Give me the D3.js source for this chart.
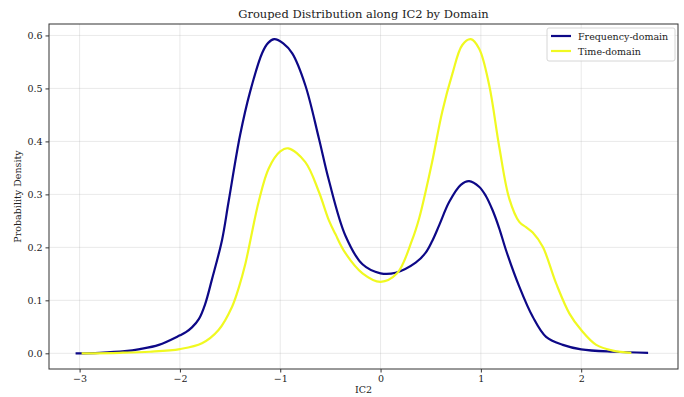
<!DOCTYPE html>
<html><head><meta charset="utf-8">
<script src="https://cdn.jsdelivr.net/npm/d3@7"></script>
<style>body{margin:0;background:#fff}svg{display:block}text{font-family:"DejaVu Serif",serif;fill:#222}</style>
</head><body><svg id="c" width="684" height="397"></svg>
<script>
const title = "Grouped Distribution along IC2 by Domain";
const xLabel = "IC2";
const yLabel = "Probability Density";
const seriesNames = ["Frequency-domain", "Time-domain"];
const seriesColors = ["#0d0887", "#f0f921"];
const xTicks = [-3, -2, -1, 0, 1, 2];
const yTicks = [0.0, 0.1, 0.2, 0.3, 0.4, 0.5, 0.6];

const freqX = [-3.04,-2.8,-2.55,-2.4,-2.21,-2.0,-1.94,-1.88,-1.81,-1.75,-1.68,-1.58,-1.515,-1.40,-1.30,-1.18,-1.12,-1.06,-0.97,-0.88,-0.75,-0.615,-0.517,-0.35,-0.18,0,0.15,0.35,0.45,0.515,0.585,0.685,0.80,0.883,0.985,1.05,1.117,1.183,1.25,1.383,1.517,1.65,1.817,2.0,2.317,2.667];
const freqY = [0.0,0.001,0.004,0.008,0.016,0.034,0.040,0.049,0.065,0.092,0.14,0.214,0.286,0.412,0.494,0.567,0.586,0.593,0.585,0.566,0.506,0.406,0.328,0.222,0.168,0.151,0.152,0.171,0.19,0.212,0.242,0.286,0.318,0.325,0.314,0.297,0.270,0.236,0.195,0.126,0.069,0.031,0.016,0.0075,0.003,0.001];
const timeX = [-2.98,-2.6,-2.3,-2.0,-1.78,-1.615,-1.48,-1.41,-1.35,-1.215,-1.115,-1.0,-0.92,-0.75,-0.615,-0.517,-0.45,-0.35,-0.18,0,0.165,0.315,0.385,0.45,0.515,0.615,0.715,0.815,0.90,0.983,1.083,1.183,1.283,1.383,1.45,1.517,1.617,1.75,1.883,2.0,2.15,2.317,2.5];
const timeY = [0.0,0.001,0.003,0.008,0.019,0.044,0.088,0.126,0.167,0.286,0.349,0.381,0.387,0.361,0.305,0.252,0.225,0.189,0.151,0.135,0.151,0.214,0.255,0.306,0.362,0.456,0.527,0.582,0.593,0.575,0.506,0.39,0.292,0.248,0.238,0.228,0.201,0.132,0.075,0.044,0.016,0.005,0.001];

const svg = d3.select("#c");
const L = 49, R = 678, T = 24, B = 369;
const x = d3.scaleLinear().domain([-3.305, 2.965]).range([L, R]);
const y = d3.scaleLinear().domain([-0.0296, 0.6216]).range([B, T]);

const g = svg.append("g");
g.selectAll(".gx").data(xTicks).join("line")
  .attr("x1", d => x(d)).attr("x2", d => x(d)).attr("y1", T).attr("y2", B)
  .attr("stroke", "#b0b0b0").attr("stroke-opacity", 0.35).attr("stroke-width", 0.8);
g.selectAll(".gy").data(yTicks).join("line")
  .attr("y1", d => y(d)).attr("y2", d => y(d)).attr("x1", L).attr("x2", R)
  .attr("stroke", "#b0b0b0").attr("stroke-opacity", 0.35).attr("stroke-width", 0.8);

const line = d3.line().x(d => x(d[0])).y(d => y(d[1])).curve(d3.curveCatmullRom.alpha(0.5));
const series = [d3.zip(freqX, freqY), d3.zip(timeX, timeY)];
series.forEach((s, i) => {
  g.append("path").datum(s).attr("d", line).attr("fill", "none")
    .attr("stroke", seriesColors[i]).attr("stroke-width", 2.2).attr("stroke-linejoin", "round");
});

const xa = svg.append("g").attr("transform", `translate(0,${B})`)
  .call(d3.axisBottom(x).tickValues(xTicks).tickSize(3.5).tickPadding(3).tickFormat(d => d3.format("d")(d).replace("-", "\u2212")));
const ya = svg.append("g").attr("transform", `translate(${L},0)`)
  .call(d3.axisLeft(y).tickValues(yTicks).tickSize(3.5).tickPadding(3).tickFormat(d3.format(".1f")));
[xa, ya].forEach(a => {
  a.select(".domain").remove();
  a.selectAll("line").attr("stroke", "#333");
  a.selectAll("text").attr("font-size", 9.5).attr("fill", "#222").style("font-family", "DejaVu Serif");
});
svg.append("rect").attr("x", L).attr("y", T).attr("width", R - L).attr("height", B - T)
  .attr("fill", "none").attr("stroke", "#333").attr("stroke-width", 1);

svg.append("text").attr("x", (L + R) / 2).attr("y", 18).attr("text-anchor", "middle")
  .attr("font-size", 11.5).text(title);
svg.append("text").attr("x", (L + R) / 2).attr("y", 393).attr("text-anchor", "middle")
  .attr("font-size", 9.5).text(xLabel);
svg.append("text").attr("transform", `translate(21,${(T + B) / 2}) rotate(-90)`).attr("text-anchor", "middle")
  .attr("font-size", 9.5).text(yLabel);

const lg = svg.append("g");
lg.append("rect").attr("x", 547).attr("y", 28).attr("width", 128).attr("height", 33).attr("rx", 2)
  .attr("fill", "#fff").attr("fill-opacity", 0.8).attr("stroke", "#ccc").attr("stroke-width", 0.8);
seriesNames.forEach((n, i) => {
  const yy = 36 + i * 15;
  lg.append("line").attr("x1", 551).attr("x2", 571).attr("y1", yy).attr("y2", yy)
    .attr("stroke", seriesColors[i]).attr("stroke-width", 2.2);
  lg.append("text").attr("x", 578).attr("y", yy + 3.5).attr("font-size", 9.5).text(n);
});
</script></body></html>
